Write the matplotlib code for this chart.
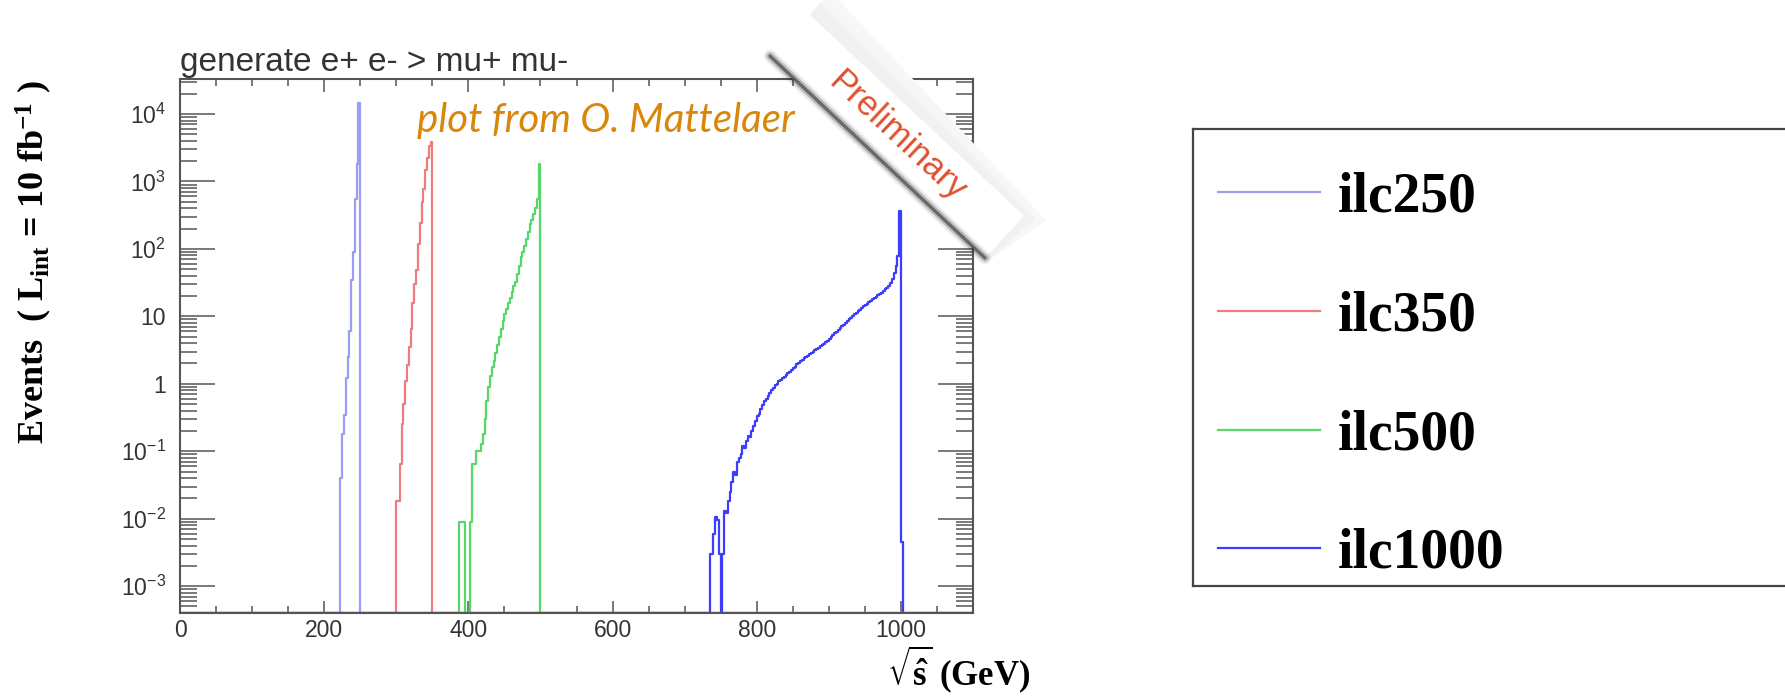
import numpy as np
import matplotlib
matplotlib.use("Agg")
import matplotlib.pyplot as plt
from matplotlib.lines import Line2D
from matplotlib.patches import Polygon
from matplotlib.transforms import Affine2D
from matplotlib.font_manager import FontProperties
from matplotlib.ticker import FixedLocator, FixedFormatter, LogLocator, MultipleLocator, NullFormatter

W, H = 1785, 698

# events per 2.5 GeV bin (zero = empty bin)
bin_width = 2.5
x_max = 1100
y_min, y_max = 4.0e-4, 3.3e4

ilc250_start = 222.5
ilc250 = [0.04, 0.18, 0.35, 1.2, 2.5, 6.0, 35, 90, 550, 1800, 14500]

ilc350_start = 300.0
ilc350 = [0.018, 0.018, 0.065, 0.25, 0.5, 1.1, 1.9, 3.5, 6.6, 16,
          30, 48, 120, 245, 500, 760, 1500, 2200, 3300, 3900]

ilc500_start = 387.5
ilc500 = [0.009, 0.009, 0.009, 0, 0, 0, 0.009, 0.065, 0.065, 0.1,
          0.1, 0.1, 0.13, 0.18, 0.3, 0.55, 0.9, 1.3, 1.8, 2.2,
          2.9, 3.7, 5.0, 6.5, 8.5, 11, 13, 16, 19, 23,
          28, 32, 42, 55, 75, 90, 110, 140, 180, 230,
          270, 330, 400, 550, 1800]

ilc1000_start = 735.0
ilc1000 = [0.003, 0.003, 0.006, 0.0105, 0.0095, 0.003, 0, 0.003, 0.013, 0.012,
           0.018, 0.025, 0.035, 0.05, 0.045, 0.07, 0.08, 0.09, 0.12, 0.11,
           0.14, 0.17, 0.16, 0.2, 0.24, 0.28, 0.33, 0.36, 0.42, 0.48,
           0.55, 0.6, 0.66, 0.72, 0.8, 0.88, 0.95, 1.0, 1.1, 1.15,
           1.2, 1.28, 1.35, 1.45, 1.5, 1.6, 1.7, 1.8, 1.95, 2.05,
           2.15, 2.25, 2.4, 2.5, 2.6, 2.75, 2.85, 3.0, 3.2, 3.3,
           3.45, 3.6, 3.75, 3.9, 4.1, 4.3, 4.6, 4.9, 5.2, 5.6,
           5.9, 6.3, 6.7, 7.1, 7.5, 8.0, 8.5, 9.0, 9.6, 10.2,
           10.8, 11.4, 12.0, 12.6, 13.3, 14.0, 14.8, 15.5, 16.3, 17.0,
           17.8, 18.6, 19.5, 20.4, 21.5, 22.5, 23.7, 25.0, 26.5, 28.5,
           31, 36, 44, 55, 78, 360, 0.0045]

series = [
    ("ilc250", ilc250_start, ilc250, "#9c9cf4"),
    ("ilc350", ilc350_start, ilc350, "#ee7c7c"),
    ("ilc500", ilc500_start, ilc500, "#57d768"),
    ("ilc1000", ilc1000_start, ilc1000, "#3d3dfb"),
]

y_ticks = [1e-3, 1e-2, 1e-1, 1, 10, 1e2, 1e3, 1e4]
y_tick_labels = [r"$\mathregular{10^{-3}}$", r"$\mathregular{10^{-2}}$",
                 r"$\mathregular{10^{-1}}$", "1", "10",
                 r"$\mathregular{10^{2}}$", r"$\mathregular{10^{3}}$",
                 r"$\mathregular{10^{4}}$"]

plt.rcParams["font.family"] = ["Liberation Sans", "DejaVu Sans"]

fig = plt.figure(figsize=(W / 100, H / 100), dpi=100)
# pixel coordinates (y down) for the decorations
px = Affine2D().scale(1 / W, -1 / H).translate(0, 1) + fig.transFigure

ax = fig.add_axes([180 / W, 1 - 613 / H, (973 - 180) / W, (613 - 79) / H])

handles = []
for name, start, vals, colour in series:
    vals = np.asarray(vals, dtype=float)
    edges = start + bin_width * np.arange(len(vals) + 1)
    x = np.concatenate([[0], edges, [x_max]])
    y = np.concatenate([[0], vals, [0, 0]])
    y = np.where(y > 0, y, y_min)
    line, = ax.plot(x, y, drawstyle="steps-post", color=colour, lw=1.6, label=name)
    handles.append(line)

ax.set_yscale("log")
ax.set_xlim(0, x_max)
ax.set_ylim(y_min, y_max)

ax.xaxis.set_major_locator(MultipleLocator(200))
ax.xaxis.set_minor_locator(MultipleLocator(50))
ax.yaxis.set_major_locator(FixedLocator(y_ticks))
ax.yaxis.set_major_formatter(FixedFormatter(y_tick_labels))
ax.yaxis.set_minor_locator(LogLocator(base=10, subs=np.arange(2, 10)))
ax.yaxis.set_minor_formatter(NullFormatter())

ax.tick_params(which="both", direction="in", top=True, right=True,
               color="#555555", width=1.1, labelsize=16.5, labelcolor="#333333")
ax.tick_params(axis="x", which="major", length=9, pad=4)
ax.tick_params(axis="x", which="minor", length=5)
ax.tick_params(axis="y", which="major", length=25, pad=10)
ax.tick_params(axis="y", which="minor", length=12)
for sp in ax.spines.values():
    sp.set_color("#555555")
    sp.set_linewidth(1.5)

ax.text(0, 1 + 8 / 534, "generate e+ e- > mu+ mu-", transform=ax.transAxes,
        ha="left", va="baseline", fontsize=24, color="#333333")

fig.text(34 / W, 1 - 80 / H,
         r"Events  ( $\mathregular{L_{int}}$ = 10 $\mathregular{fb^{-1}}$ )",
         rotation=90, ha="center", va="top", fontsize=26,
         family="Liberation Serif", weight="bold")
fig.text(1030 / W, 1 - 669 / H, r"$\mathregular{\sqrt{\hat{s}}}$ (GeV)",
         ha="right", va="center", fontsize=25,
         family="Liberation Serif", weight="bold")

fig.text(417 / W, 1 - 132 / H, "plot from O. Mattelaer", ha="left", va="baseline",
         fontsize=29, style="italic", family="Lato", color="#d9860a")

# "Preliminary" ribbon
a, b = np.array([770, 56]), np.array([985, 258])
off = np.array([39, -42])
for grow, shade in [(22, "#f7f7f7"), (11, "#f1f1f1")]:
    fig.add_artist(Polygon([a + [8, -4], b + [4, 2], b + off + [grow, grow * 0.2],
                            a + off + [grow, -grow]], closed=True, transform=px,
                           facecolor=shade, edgecolor="none", zorder=9))
band = Polygon([a, b, b + off, a + off], closed=True, transform=px,
               facecolor="white", edgecolor="none", zorder=10)
fig.add_artist(band)
for lw, alpha, col in [(9, 0.08, "k"), (5.5, 0.2, "k"), (2.4, 0.8, "#555555")]:
    fig.add_artist(Line2D([a[0], b[0]], [a[1], b[1]], transform=px, lw=lw,
                          alpha=alpha, color=col, solid_capstyle="round", zorder=11))
mid = (a + b) / 2 + off / 2
fig.text(mid[0] / W, 1 - mid[1] / H, "Preliminary", rotation=-43,
         rotation_mode="anchor", ha="center", va="center", fontsize=25,
         color="#e0502f", zorder=12)

# legend box running off the right edge
lax = fig.add_axes([1193 / W, 1 - 586 / H, (W + 30 - 1193) / W, (586 - 129) / H])
lax.set_xticks([])
lax.set_yticks([])
for sp in lax.spines.values():
    sp.set_color("#444444")
    sp.set_linewidth(1.6)
lax.legend(handles, [h.get_label() for h in handles], loc="center left",
           bbox_to_anchor=(25 / 622, 0.46), frameon=False,
           prop=FontProperties(family="Liberation Serif", weight="bold", size=40),
           handlelength=1.83, handletextpad=0.32, labelspacing=1.2,
           borderpad=0, borderaxespad=0)

fig.savefig("out.png", dpi=100)
